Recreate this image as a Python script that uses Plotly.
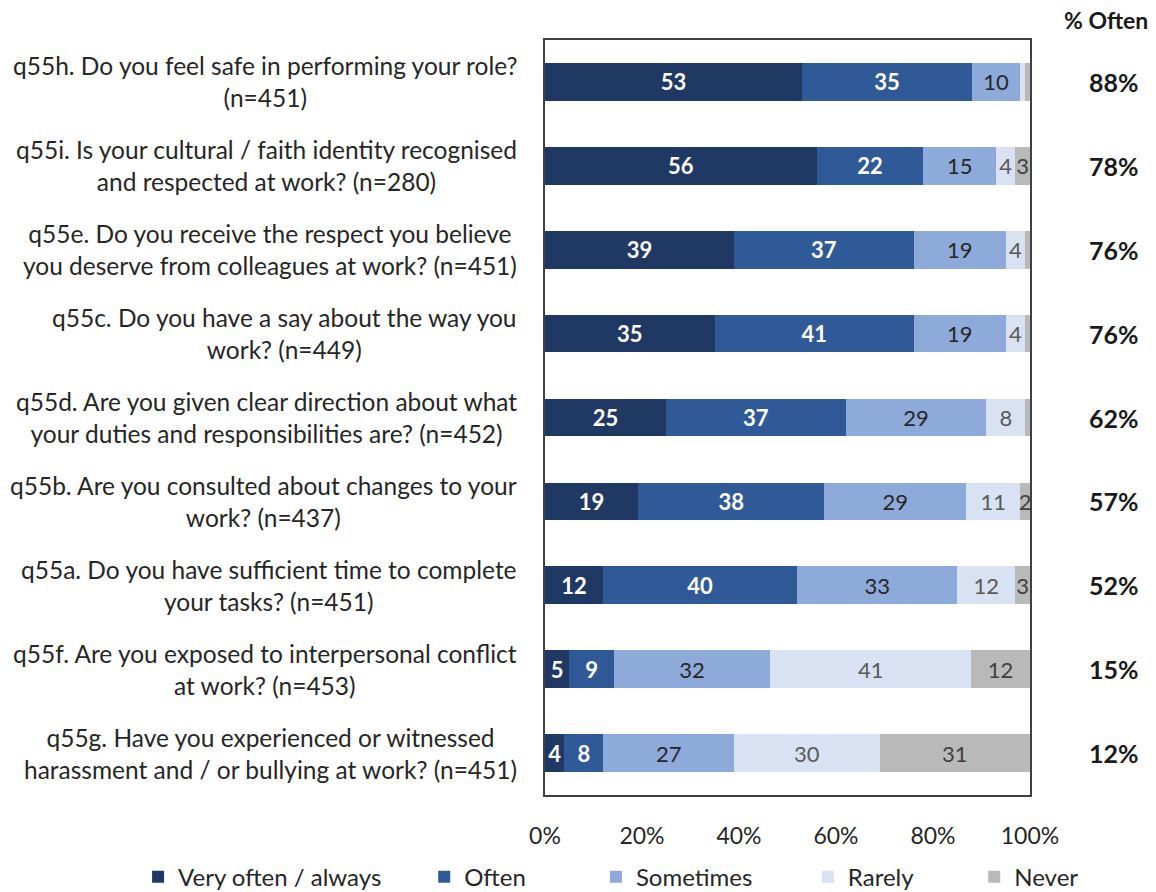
import plotly.graph_objects as go

# Survey items, top to bottom
items = ["q55h", "q55i", "q55e", "q55c", "q55d", "q55b", "q55a", "q55f", "q55g"]
questions = [
    "q55h. Do you feel safe in performing your role?<br>(n=451)",
    "q55i. Is your cultural / faith identity recognised<br>and respected at work? (n=280)",
    "q55e. Do you receive the respect you believe<br>you deserve from colleagues at work? (n=451)",
    "q55c. Do you have a say about the way you<br>work? (n=449)",
    "q55d. Are you given clear direction about what<br>your duties and responsibilities are? (n=452)",
    "q55b. Are you consulted about changes to your<br>work? (n=437)",
    "q55a. Do you have sufficient time to complete<br>your tasks? (n=451)",
    "q55f. Are you exposed to interpersonal conflict<br>at work? (n=453)",
    "q55g. Have you experienced or witnessed<br>harassment and / or bullying at work? (n=451)",
]

# Response shares (%)
very_often = [53, 56, 39, 35, 25, 19, 12, 5, 4]
often = [35, 22, 37, 41, 37, 38, 40, 9, 8]
sometimes = [10, 15, 19, 19, 29, 29, 33, 32, 27]
rarely = [1, 4, 4, 4, 8, 11, 12, 41, 30]
never = [1, 3, 1, 1, 1, 2, 3, 12, 31]

# Which segments carry a printed value
show_rarely = [False, True, True, True, True, True, True, True, True]
show_never = [False, True, False, False, False, True, True, True, True]

pct_often = [88, 78, 76, 76, 62, 57, 52, 15, 12]

# name, values, fill, label colour, label mask, bold label, legend id, legend x
series = [
    ("Very often / always", very_often, "#1f3864", "white", None, True, "legend", -0.839),
    ("Often", often, "#2f5a97", "white", None, True, "legend2", -0.249),
    ("Sometimes", sometimes, "#8eaadb", "#262626", None, False, "legend3", 0.105),
    ("Rarely", rarely, "#d9e2f3", "#595959", show_rarely, False, "legend4", 0.542),
    ("Never", never, "#b9b9b9", "#404040", show_never, False, "legend5", 0.885),
]

FONT = "Lato, Arial, sans-serif"

fig = go.Figure()
legend_layouts = {}
for name, vals, color, tcolor, mask, bold, leg, legx in series:
    texts = []
    for i, v in enumerate(vals):
        if mask is None or mask[i]:
            texts.append(f"<b>{v}</b>" if bold else str(v))
        else:
            texts.append("")
    fig.add_trace(go.Bar(
        name=name,
        y=items,
        x=vals,
        orientation="h",
        marker=dict(color=color, line=dict(width=0)),
        text=texts,
        textposition="inside",
        insidetextanchor="middle",
        textangle=0,
        textfont=dict(color=tcolor, size=22, family=FONT),
        hoverinfo="skip",
        legend=leg,
    ))
    legend_layouts[leg] = dict(
        orientation="h", x=legx, xanchor="left",
        y=-0.079, yanchor="top",
        font=dict(size=24, color="#262626", family=FONT),
        bgcolor="rgba(0,0,0,0)",
    )

# Question labels to the left of the plot
for item, q in zip(items, questions):
    fig.add_annotation(
        xref="paper", yref="y", x=0, y=item, xshift=-26,
        xanchor="right", yanchor="middle", align="center",
        text=q, showarrow=False,
        font=dict(size=24.5, color="#262626", family=FONT),
    )

# "% Often" column on the right
for item, p in zip(items, pct_often):
    fig.add_annotation(
        xref="paper", yref="y", x=1, y=item, xshift=84,
        xanchor="center", yanchor="middle",
        text=f"<b>{p}%</b>", showarrow=False,
        font=dict(size=25, color="#1a1a1a", family=FONT),
    )
fig.add_annotation(
    xref="paper", yref="paper", x=1, y=1, xshift=76, yshift=20,
    xanchor="center", yanchor="middle",
    text="<b>% Often</b>", showarrow=False,
    font=dict(size=23, color="#1a1a1a", family=FONT),
)

fig.update_layout(
    width=1156, height=892,
    margin=dict(l=545, r=126, t=40, b=97, autoexpand=False),
    barmode="stack",
    barnorm="percent",
    bargap=0.55,
    uniformtext=dict(minsize=22, mode="show"),
    paper_bgcolor="white",
    plot_bgcolor="white",
    font=dict(family=FONT, color="#262626"),
    xaxis=dict(
        range=[0, 100], tickvals=[0, 20, 40, 60, 80, 100],
        ticktext=["0%", "20%", "40%", "60%", "80%", "100%"],
        showgrid=False, zeroline=False,
        showline=True, mirror=True, linecolor="#404040", linewidth=1.5,
        ticks="outside", ticklen=20, tickcolor="rgba(0,0,0,0)",
        tickfont=dict(size=23, color="#262626", family=FONT),
    ),
    yaxis=dict(
        type="category",
        categoryorder="array", categoryarray=items[::-1],
        showticklabels=False, showgrid=False,
        showline=True, mirror=True, linecolor="#404040", linewidth=1.5,
        ticks="",
    ),
    showlegend=True,
    **legend_layouts,
)

fig.write_html("out.html")
